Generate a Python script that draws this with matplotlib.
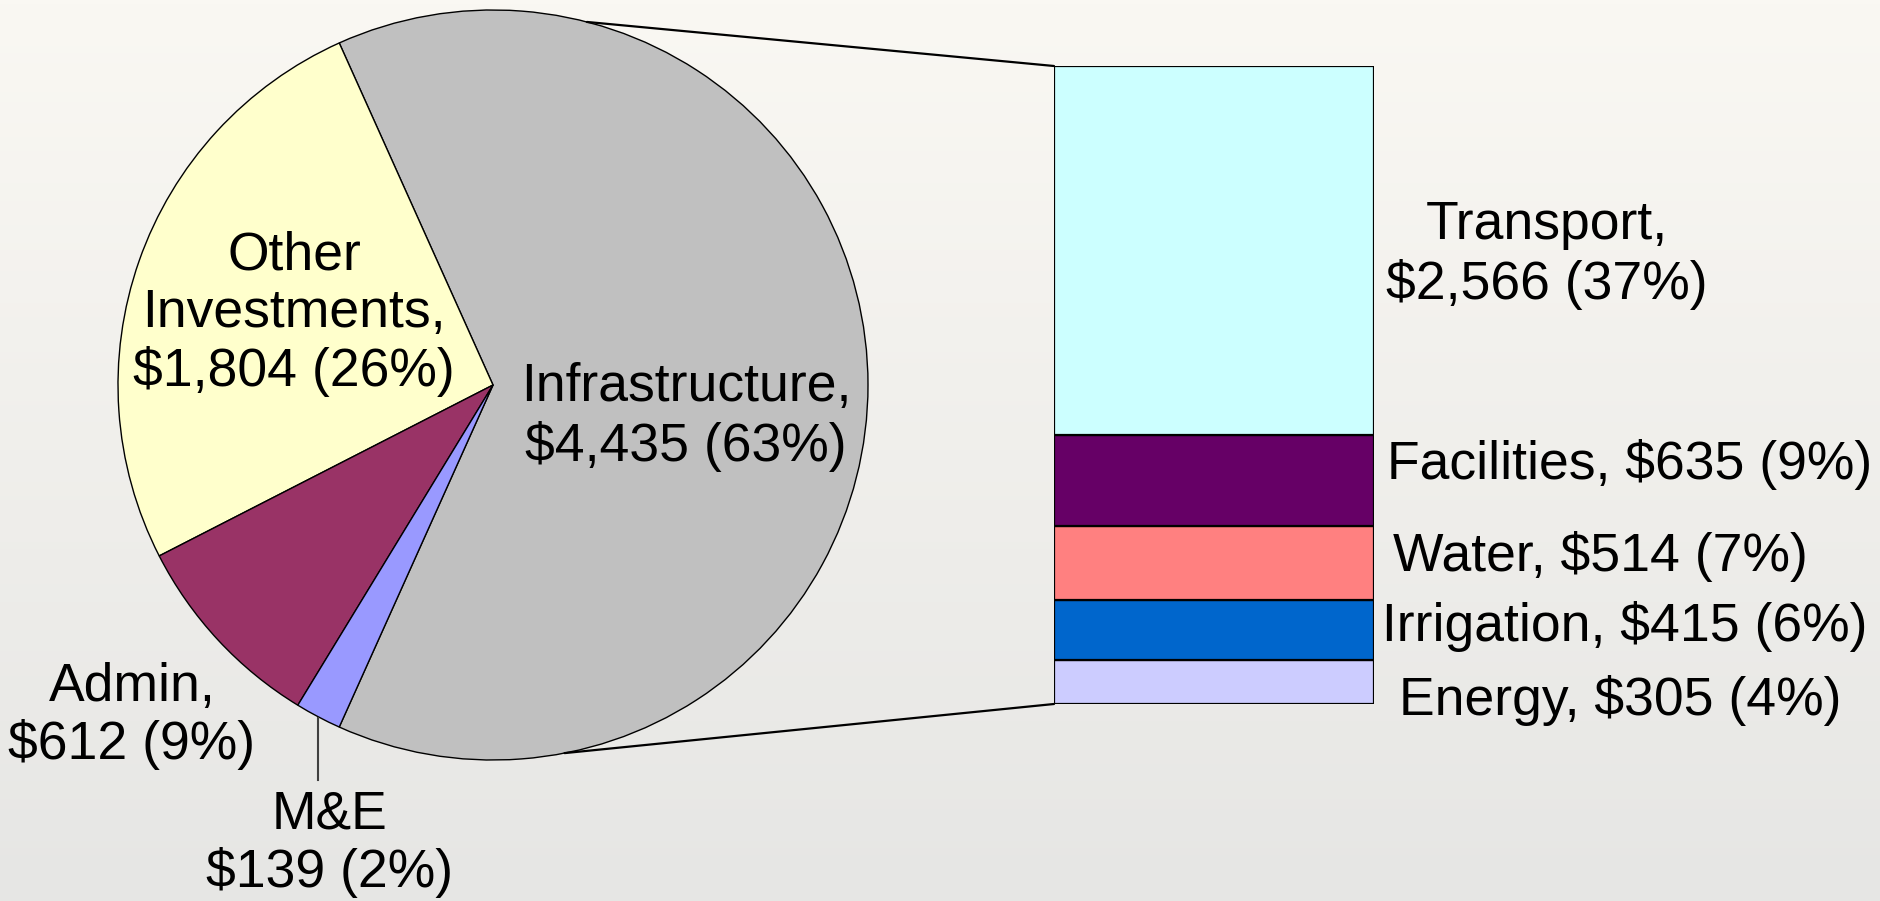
import numpy as np
import matplotlib
matplotlib.use('Agg')
from matplotlib import pyplot as plt
from matplotlib.patches import ConnectionPatch

# pie data (order: counterclockwise from the right-hand slice)
pie_names = ['Infrastructure', 'Other Investments', 'Admin', 'M&E']
pie_values = [4435, 1804, 612, 139]
pie_colors = ['#C0C0C0', '#FFFFCC', '#993366', '#9999FF']
pie_labels = ['Infrastructure,\n$4,435 (63%)',
              'Other\nInvestments,\n$1,804 (26%)',
              'Admin,\n$612 (9%)',
              'M&E\n$139 (2%)']

# breakdown of Infrastructure (bottom to top)
bar_names = ['Energy', 'Irrigation', 'Water', 'Facilities', 'Transport']
bar_values = [305, 415, 514, 635, 2566]
bar_colors = ['#CCCCFF', '#0066CC', '#FF8080', '#660066', '#CCFFFF']
bar_labels = ['Energy, $305 (4%)', 'Irrigation, $415 (6%)',
              'Water, $514 (7%)', 'Facilities, $635 (9%)',
              'Transport,\n$2,566 (37%)']

W, H = 1880, 901
fig = plt.figure(figsize=(W/100, H/100), dpi=100)
plt.rcParams['font.family'] = ['Liberation Sans', 'DejaVu Sans']

# background gradient, pixel coords
bg = fig.add_axes([0, 0, 1, 1])
top = np.array([250, 248, 243]) / 255.
bot = np.array([230, 230, 228]) / 255.
g = np.linspace(0, 1, 256)[:, None, None]
grad = top * (1 - g) + bot * g
bg.imshow(np.repeat(grad, 2, axis=1), extent=[0, W, H, 0], aspect='auto')
bg.set_xlim(0, W)
bg.set_ylim(H, 0)
bg.axis('off')

# pie
cx, cy, r = 493, 385, 375
pax = fig.add_axes([(cx - r)/W, (H - cy - r)/H, 2*r/W, 2*r/H])
start = -180. * pie_values[0] / sum(pie_values)
pax.pie(pie_values, colors=pie_colors, startangle=start, counterclock=True,
        radius=1, wedgeprops=dict(edgecolor='black', linewidth=1.0))
pax.set_xlim(-1, 1)
pax.set_ylim(-1, 1)
pax.axis('off')

# stacked bar
bx0, bx1, by0, by1 = 1054, 1374, 66, 704
bax = fig.add_axes([bx0/W, (H - by1)/H, (bx1 - bx0)/W, (by1 - by0)/H])
bottom = 0
for v, c in zip(bar_values, bar_colors):
    bax.bar(0, v, width=1, bottom=bottom, color=c, edgecolor='black', linewidth=1.6)
    bottom += v
bax.set_xlim(-0.5, 0.5)
bax.set_ylim(0, sum(bar_values))
bax.axis('off')

# connector lines
for ang, yb in [(75.5, sum(bar_values)), (-79, 0)]:
    a = np.radians(ang)
    con = ConnectionPatch(xyA=(np.cos(a), np.sin(a)), coordsA=pax.transData,
                          xyB=(-0.5, yb), coordsB=bax.transData,
                          color='black', linewidth=1.6)
    fig.add_artist(con)

# M&E leader line
fig.add_artist(plt.Line2D([318/W, 318/W], [1 - 718/H, 1 - 780/H],
                          color='#404040', linewidth=1.5))

fs = 38.5
pie_pos = [(686, 417), (294, 314), (132, 716), (330, 844)]
for s, (x, y) in zip(pie_labels, pie_pos):
    fig.text(x, y, s, transform=bg.transData, ha='center', va='center',
             fontsize=fs, linespacing=1.2, multialignment='center')

bar_pos = [(1620, 700), (1625, 627), (1600, 557), (1630, 464), (1547, 255)]
for s, (x, y) in zip(bar_labels, bar_pos):
    fig.text(x, y, s, transform=bg.transData, ha='center', va='center',
             fontsize=fs, linespacing=1.2, multialignment='center')

fig.savefig('out.png', dpi=100)
